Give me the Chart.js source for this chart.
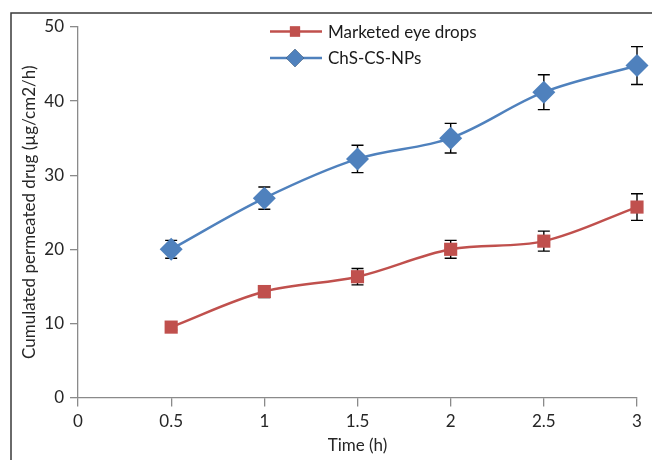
<!DOCTYPE html>
<html>
<head>
<meta charset="utf-8">
<script src="https://cdn.jsdelivr.net/npm/chart.js@4.4.1/dist/chart.umd.min.js"></script>
<style>
  html, body { margin: 0; padding: 0; background: #fff; }
  #wrap { width: 652px; height: 460px; position: relative; }
</style>
</head>
<body>
<div id="wrap"><canvas id="chart" width="652" height="460"></canvas></div>
<script>
// datos
const times = [0.5, 1, 1.5, 2, 2.5, 3];
const marketed = [9.5, 14.3, 16.3, 20.0, 21.1, 25.7];
const marketedErr = [0.4, 0.8, 1.1, 1.2, 1.35, 1.8];
const nps = [20.0, 26.9, 32.2, 35.0, 41.2, 44.8];
const npsErr = [1.2, 1.5, 1.85, 2.0, 2.35, 2.55];
const xTicks = [0, 0.5, 1, 1.5, 2, 2.5, 3];
const yTicks = [0, 10, 20, 30, 40, 50];

const RED = '#C0504D';
const BLUE = '#4F81BD';
const FONT = 'Lato, "Open Sans", sans-serif';
const FSIZE = 17;

const toPoints = (xs, ys) => xs.map((x, i) => ({ x: x, y: ys[i] }));

// marco (solo arriba e izquierda visibles)
const frame = {
    id: 'frame',
    beforeDraw(chart) {
        const ctx = chart.ctx;
        ctx.save();
        ctx.strokeStyle = '#3a3a3a';
        ctx.lineWidth = 1.5;
        ctx.beginPath();
        ctx.moveTo(11, chart.height + 2);
        ctx.lineTo(11, 13);
        ctx.lineTo(chart.width + 2, 13);
        ctx.stroke();
        ctx.restore();
    }
};

// barras de error
const errorBars = {
    id: 'errorBars',
    beforeDatasetsDraw(chart) {
        const ctx = chart.ctx;
        const xs = chart.scales.x, ys = chart.scales.y;
        ctx.save();
        ctx.strokeStyle = '#000';
        ctx.lineWidth = 1.4;
        chart.data.datasets.forEach(ds => {
            ds.data.forEach((p, i) => {
                const e = ds.errors[i];
                const px = xs.getPixelForValue(p.x);
                const top = ys.getPixelForValue(p.y + e);
                const bot = ys.getPixelForValue(p.y - e);
                ctx.beginPath();
                ctx.moveTo(px, top); ctx.lineTo(px, bot);
                ctx.moveTo(px - 6, top); ctx.lineTo(px + 6, top);
                ctx.moveTo(px - 6, bot); ctx.lineTo(px + 6, bot);
                ctx.stroke();
            });
        });
        ctx.restore();
    }
};

// leyenda con linea + marcador
const lineLegend = {
    id: 'lineLegend',
    afterDraw(chart) {
        const ctx = chart.ctx;
        ctx.save();
        chart.data.datasets.forEach((ds, i) => {
            const y = 31.5 + i * 26.5;
            ctx.strokeStyle = ds.borderColor;
            ctx.lineWidth = 2.5;
            ctx.beginPath();
            ctx.moveTo(270, y); ctx.lineTo(322, y);
            ctx.stroke();
            Chart.helpers.drawPoint(ctx, {
                pointStyle: ds.pointStyle,
                radius: ds.legendRadius,
                borderWidth: 0
            }, 295, y);
            ctx.fillStyle = ds.backgroundColor;
            ctx.fill();
            ctx.fillStyle = '#1a1a1a';
            ctx.font = FSIZE + 'px ' + FONT;
            ctx.textBaseline = 'middle';
            ctx.textAlign = 'left';
            ctx.fillText(ds.label, 328, y + 1);
        });
        ctx.restore();
    }
};

new Chart(document.getElementById('chart'), {
    type: 'scatter',
    data: {
        datasets: [
            {
                label: 'Marketed eye drops',
                data: toPoints(times, marketed),
                errors: marketedErr,
                showLine: true,
                tension: 0.35,
                clip: false,
                borderColor: RED,
                backgroundColor: RED,
                borderWidth: 2.5,
                pointStyle: 'rect',
                pointRadius: 9.3,
                pointBorderWidth: 0,
                legendRadius: 7.2
            },
            {
                label: 'ChS-CS-NPs',
                data: toPoints(times, nps),
                errors: npsErr,
                showLine: true,
                tension: 0.35,
                clip: false,
                borderColor: BLUE,
                backgroundColor: BLUE,
                borderWidth: 2.5,
                pointStyle: 'rectRot',
                pointRadius: 11.5,
                pointBorderWidth: 0,
                legendRadius: 9
            }
        ]
    },
    options: {
        responsive: false,
        animation: false,
        layout: { padding: { top: 27, right: 15, left: 19, bottom: 0 } },
        plugins: {
            legend: { display: false },
            tooltip: { enabled: false }
        },
        scales: {
            x: {
                type: 'linear',
                min: 0, max: 3,
                afterBuildTicks: s => { s.ticks = xTicks.map(v => ({ value: v })); },
                afterFit: s => { s.height = 62.5; },
                border: { color: '#8a8a8a', width: 1.3 },
                grid: { drawOnChartArea: false, tickLength: 9, color: '#8a8a8a', lineWidth: 1.3 },
                ticks: {
                    color: '#262626', padding: 5,
                    font: { family: FONT, size: FSIZE },
                    callback: v => String(v)
                },
                title: {
                    display: true, text: 'Time (h)', color: '#262626',
                    font: { family: FONT, size: FSIZE }, padding: { top: 0 }
                }
            },
            y: {
                min: 0, max: 50,
                afterBuildTicks: s => { s.ticks = yTicks.map(v => ({ value: v })); },
                afterFit: s => { s.width = 59; },
                border: { color: '#8a8a8a', width: 1.3 },
                grid: { drawOnChartArea: false, tickLength: 8, color: '#8a8a8a', lineWidth: 1.3 },
                ticks: {
                    color: '#262626', padding: 6,
                    font: { family: FONT, size: FSIZE }
                },
                title: {
                    display: true, text: 'Cumulated permeated drug (µg/cm2/h)', color: '#262626',
                    font: { family: FONT, size: FSIZE }, padding: 0
                }
            }
        }
    },
    plugins: [frame, errorBars, lineLegend]
});
</script>
</body>
</html>
